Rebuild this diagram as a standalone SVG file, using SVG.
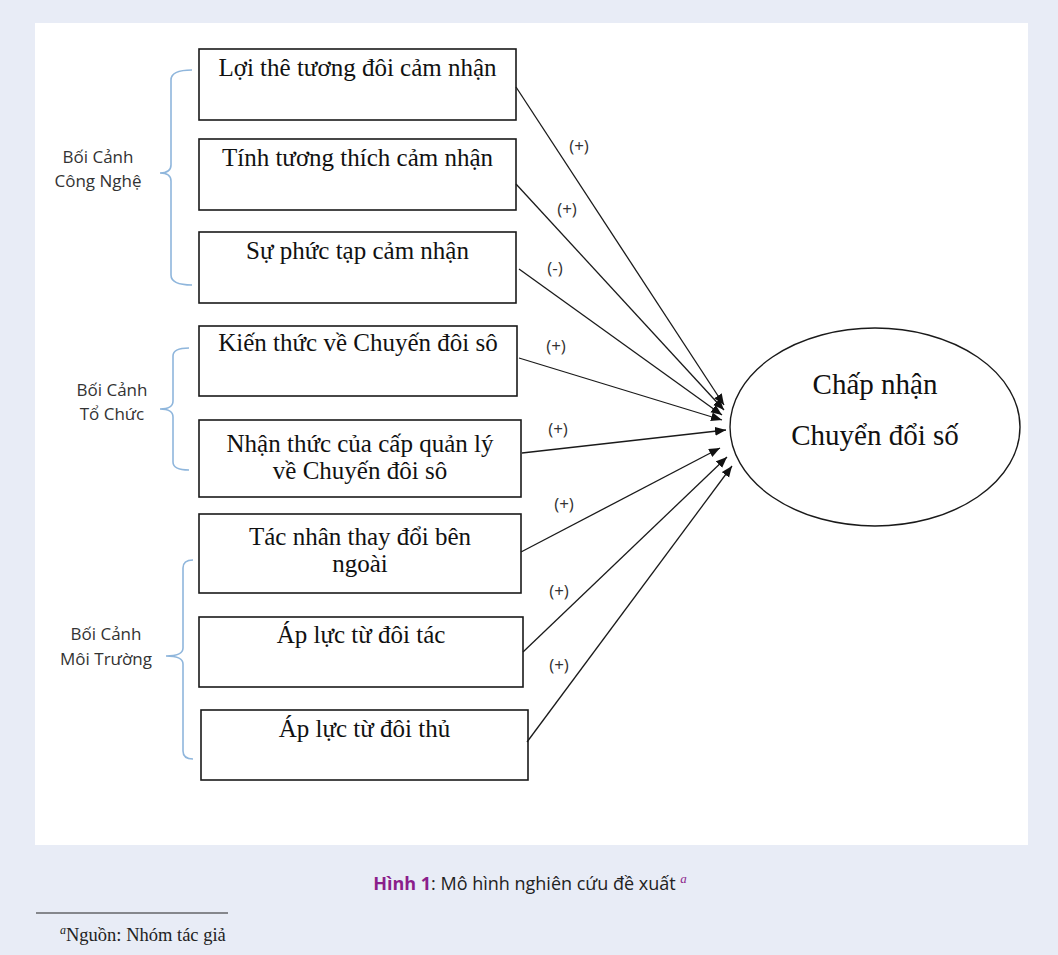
<svg xmlns="http://www.w3.org/2000/svg" width="1058" height="955" viewBox="0 0 1058 955">
<defs>
<marker id="ah" markerUnits="userSpaceOnUse" markerWidth="12" markerHeight="10" refX="11" refY="4.5" orient="auto">
<path d="M0,0 L11,4.5 L0,9 Z" fill="#111"/>
</marker>
<style>
.box{fill:#fff;stroke:#1a1a1a;stroke-width:1.6}
.bt{font-family:"Liberation Serif","Times New Roman",serif;font-size:25px;fill:#111;text-anchor:middle}
.grp{font-family:"Open Sans","Noto Sans",sans-serif;font-size:17px;fill:#333;text-anchor:middle}
.brace{fill:none;stroke:#8fb6dc;stroke-width:1.6}
.con{stroke:#1a1a1a;stroke-width:1.3;fill:none;marker-end:url(#ah)}
.lbl{font-family:"Open Sans","Noto Sans",sans-serif;font-size:17px;fill:#333;text-anchor:middle}
</style>
</defs>
<rect x="0" y="0" width="1058" height="955" fill="#e8ecf6"/>
<rect x="35" y="23" width="993" height="822" fill="#fff"/>

<g id="brace-cong-nghe">
<path class="brace" d="M192,70 Q171,70 171,80 L171,165 Q171,173 160,173 Q171,173 171,181 L171,275 Q171,285 192,285"/>
<text class="grp" x="98" y="163">Bối Cảnh</text>
<text class="grp" x="98" y="187">Công Nghệ</text>
</g>
<g id="brace-to-chuc">
<path class="brace" d="M189,348 Q173,348 173,356 L173,401 Q173,409 160,409 Q173,409 173,417 L173,462 Q173,470 189,470"/>
<text class="grp" x="112" y="396">Bối Cảnh</text>
<text class="grp" x="112" y="420">Tổ Chức</text>
</g>
<g id="brace-moi-truong">
<path class="brace" d="M193,560 Q183,560 183,568 L183,648 Q183,656 166,656 Q183,656 183,664 L183,751 Q183,759 193,759"/>
<text class="grp" x="106" y="640">Bối Cảnh</text>
<text class="grp" x="106" y="665">Môi Trường</text>
</g>

<g id="n1"><rect class="box" x="199" y="49" width="317" height="71"/><text class="bt" x="357.5" y="76">Lợi thê tương đôi cảm nhận</text></g>
<g id="n2"><rect class="box" x="199" y="139" width="317" height="71"/><text class="bt" x="357.5" y="166">Tính tương thích cảm nhận</text></g>
<g id="n3"><rect class="box" x="199" y="232" width="317" height="71"/><text class="bt" x="357.5" y="259">Sự phức tạp cảm nhận</text></g>
<g id="n4"><rect class="box" x="199" y="326" width="318" height="70"/><text class="bt" x="358" y="351">Kiến thức về Chuyến đôi sô</text></g>
<g id="n5"><rect class="box" x="199" y="420" width="322" height="77"/><text class="bt" x="360" y="452">Nhận thức của cấp quản lý</text><text class="bt" x="360" y="479">về Chuyến đôi sô</text></g>
<g id="n6"><rect class="box" x="199" y="514" width="322" height="79"/><text class="bt" x="360" y="545">Tác nhân thay đổi bên</text><text class="bt" x="360" y="572">ngoài</text></g>
<g id="n7"><rect class="box" x="199" y="617" width="324" height="70"/><text class="bt" x="361" y="643">Áp lực từ đôi tác</text></g>
<g id="n8"><rect class="box" x="201" y="710" width="327" height="70"/><text class="bt" x="364.5" y="737">Áp lực từ đôi thủ</text></g>

<g id="target">
<ellipse cx="875" cy="427" rx="145" ry="99" fill="#fff" stroke="#1a1a1a" stroke-width="1.4"/>
<text class="bt" x="875" y="394" style="font-size:29px">Chấp nhận</text>
<text class="bt" x="875" y="445" style="font-size:29px">Chuyển đổi số</text>
</g>

<g id="connectors">
<line class="con" x1="516" y1="87" x2="724" y2="405"/>
<line class="con" x1="516" y1="184" x2="724" y2="410"/>
<line class="con" x1="519" y1="269" x2="722" y2="415"/>
<line class="con" x1="519" y1="358" x2="722" y2="420"/>
<line class="con" x1="522" y1="453" x2="726" y2="430"/>
<line class="con" x1="521" y1="552" x2="720" y2="448"/>
<line class="con" x1="523" y1="652" x2="727" y2="457"/>
<line class="con" x1="527" y1="742" x2="732" y2="466"/>
<text class="lbl" x="579" y="152">(+)</text>
<text class="lbl" x="567" y="215">(+)</text>
<text class="lbl" x="555" y="274">(-)</text>
<text class="lbl" x="556" y="352">(+)</text>
<text class="lbl" x="558" y="435">(+)</text>
<text class="lbl" x="564" y="510">(+)</text>
<text class="lbl" x="559" y="597">(+)</text>
<text class="lbl" x="559" y="671">(+)</text>
</g>

<g id="caption">
<text x="530" y="890" text-anchor="middle" style="font-family:'Open Sans','Noto Sans',sans-serif;font-size:18px;fill:#222"><tspan font-weight="bold" fill="#8b1e8b">Hình 1</tspan>: Mô hình nghiên cứu đề xuất <tspan dy="-7" style="font-family:'Liberation Serif',serif;font-style:italic;font-size:13px" fill="#8b1e8b">a</tspan></text>
</g>
<g id="footnote">
<line x1="36" y1="913" x2="228" y2="913" stroke="#222" stroke-width="1"/>
<text x="60" y="941" style="font-family:'Liberation Serif',serif;font-size:18.5px;fill:#222"><tspan dy="-7" style="font-style:italic;font-size:12px">a</tspan><tspan dy="7">Nguồn: Nhóm tác giả</tspan></text>
</g>
</svg>
